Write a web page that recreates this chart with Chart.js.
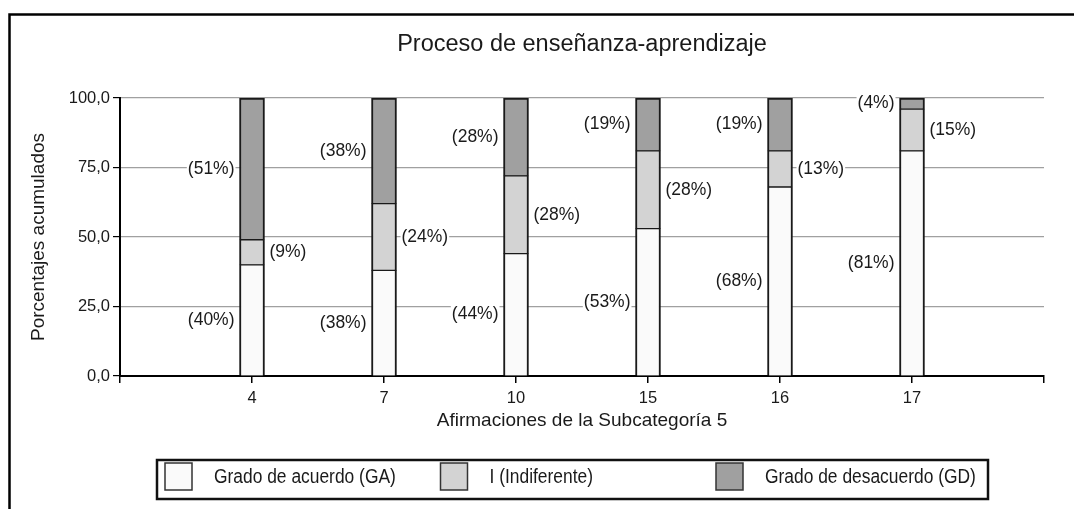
<!DOCTYPE html>
<html>
<head>
<meta charset="utf-8">
<script src="https://cdn.jsdelivr.net/npm/chart.js@4.4.1/dist/chart.umd.min.js"></script>
<style>
  body { margin: 0; background: #fff; }
</style>
</head>
<body>
<canvas id="chart" width="1074" height="509"></canvas>
<script>
// values (percent of answers per statement)
const categories = ['4', '7', '10', '15', '16', '17'];
const acuerdo = [40, 38, 44, 53, 68, 81];
const indiferente = [9, 24, 28, 28, 13, 15];
const desacuerdo = [51, 38, 28, 19, 19, 4];
const yTicks = [0, 25, 50, 75, 100];
const seriesNames = ['Grado de acuerdo (GA)', 'I (Indiferente)', 'Grado de desacuerdo (GD)'];
const seriesColors = ['#fafafa', '#d3d3d3', '#a0a0a0'];

const font = "'Liberation Sans', Arial, sans-serif";
const ink = '#1a1a1a';

// empty slot at each end so the axis runs one step past the first and last bar
const pad = arr => [null].concat(arr, [null]);

const frame = {
  id: 'frame',
  beforeDraw(chart) {
    const ctx = chart.ctx;
    ctx.save();
    ctx.fillStyle = '#fff';
    ctx.fillRect(0, 0, chart.width, chart.height);
    ctx.strokeStyle = '#000';
    ctx.lineWidth = 2.5;
    ctx.beginPath();
    ctx.moveTo(9.5, chart.height + 5);
    ctx.lineTo(9.5, 14.5);
    ctx.lineTo(chart.width + 5, 14.5);
    ctx.stroke();
    ctx.restore();
  },
  afterDatasetsDraw(chart) {
    const ctx = chart.ctx;
    ctx.save();
    ctx.font = '17.5px ' + font;
    ctx.textBaseline = 'middle';
    ctx.textAlign = 'left';
    chart.data.datasets.forEach((ds, d) => {
      chart.getDatasetMeta(d).data.forEach((bar, i) => {
        const v = ds.data[i];
        if (v == null) return;
        const txt = '(' + v + '%)';
        const w = ctx.measureText(txt).width;
        const y = (bar.y + bar.base) / 2;
        const x = d === 1 ? bar.x + bar.width / 2 + 5 : bar.x - bar.width / 2 - 5 - w;
        ctx.fillStyle = '#fff';
        ctx.fillRect(x - 1, y - 10, w + 2, 20);
        ctx.fillStyle = ink;
        ctx.fillText(txt, x, y);
      });
    });
    ctx.restore();
  },
  afterDraw(chart) {
    const ctx = chart.ctx;
    const area = chart.chartArea;
    ctx.save();
    // title centred over the plot area
    ctx.font = '23.5px ' + font;
    ctx.fillStyle = ink;
    ctx.textAlign = 'center';
    ctx.textBaseline = 'middle';
    ctx.fillText('Proceso de enseñanza-aprendizaje', (area.left + area.right) / 2, 45);

    // legend box
    ctx.strokeStyle = '#111';
    ctx.lineWidth = 2.5;
    ctx.strokeRect(157, 460, 831, 39);
    ctx.font = '20px ' + font;
    ctx.textAlign = 'left';
    chart.data.datasets.forEach((ds, d) => {
      const x = 165 + d * 275.5;
      ctx.fillStyle = ds.backgroundColor;
      ctx.fillRect(x, 463, 27, 27);
      ctx.strokeStyle = '#333';
      ctx.lineWidth = 1.5;
      ctx.strokeRect(x, 463, 27, 27);
      // squeezed a bit, the original legend uses a narrow face
      ctx.save();
      ctx.translate(x + 49, 477);
      ctx.scale(0.87, 1);
      ctx.fillStyle = ink;
      ctx.fillText(ds.label, 0, 0);
      ctx.restore();
    });
    ctx.restore();
  }
};

// sides 2px; where two segments meet the 1px edges add up to one 2px line
const borders = [
  { left: 2, right: 2, top: 1, bottom: 0 },
  { left: 2, right: 2, top: 1, bottom: 1 },
  { left: 2, right: 2, top: 2, bottom: 1 }
];

new Chart(document.getElementById('chart'), {
  type: 'bar',
  data: {
    labels: [''].concat(categories, ['']),
    datasets: [
      { label: seriesNames[0], data: pad(acuerdo), backgroundColor: seriesColors[0] },
      { label: seriesNames[1], data: pad(indiferente), backgroundColor: seriesColors[1] },
      { label: seriesNames[2], data: pad(desacuerdo), backgroundColor: seriesColors[2] }
    ].map((ds, d) => Object.assign(ds, { borderColor: '#1a1a1a', borderWidth: borders[d], barThickness: 25, borderSkipped: false }))
  },
  options: {
    responsive: false,
    animation: false,
    devicePixelRatio: 1,
    layout: { padding: { left: 20, right: 30, top: 98, bottom: 73 } },
    plugins: {
      legend: { display: false },
      title: { display: false },
      tooltip: { enabled: false }
    },
    scales: {
      x: {
        stacked: true,
        offset: false,
        afterFit: s => { s.height = 60; },
        grid: { offset: false, drawOnChartArea: false, drawTicks: true, tickLength: 7, tickColor: '#000', lineWidth: 1.5 },
        border: { display: true, color: '#000', width: 2 },
        ticks: { color: ink, font: { family: font, size: 16.5 }, padding: 6, maxRotation: 0, autoSkip: false },
        title: {
          display: true,
          text: 'Afirmaciones de la Subcategoría 5',
          color: ink,
          font: { family: font, size: 19 },
          padding: { top: 0, bottom: 4 }
        }
      },
      y: {
        stacked: true,
        min: 0,
        max: 100,
        afterFit: s => { s.width = 100; },
        afterBuildTicks: s => { s.ticks = yTicks.map(v => ({ value: v })); },
        grid: { color: '#a0a0a0', lineWidth: 1.2, tickColor: '#000', tickLength: 7, drawTicks: true },
        border: { display: true, color: '#000', width: 2 },
        ticks: {
          color: ink,
          font: { family: font, size: 16.5 },
          padding: 3,
          callback: v => v.toFixed(1).replace('.', ',')
        },
        title: {
          display: true,
          text: 'Porcentajes acumulados',
          color: ink,
          font: { family: font, size: 19 },
          padding: { top: 7, bottom: 0 }
        }
      }
    }
  },
  plugins: [frame]
});
</script>
</body>
</html>
